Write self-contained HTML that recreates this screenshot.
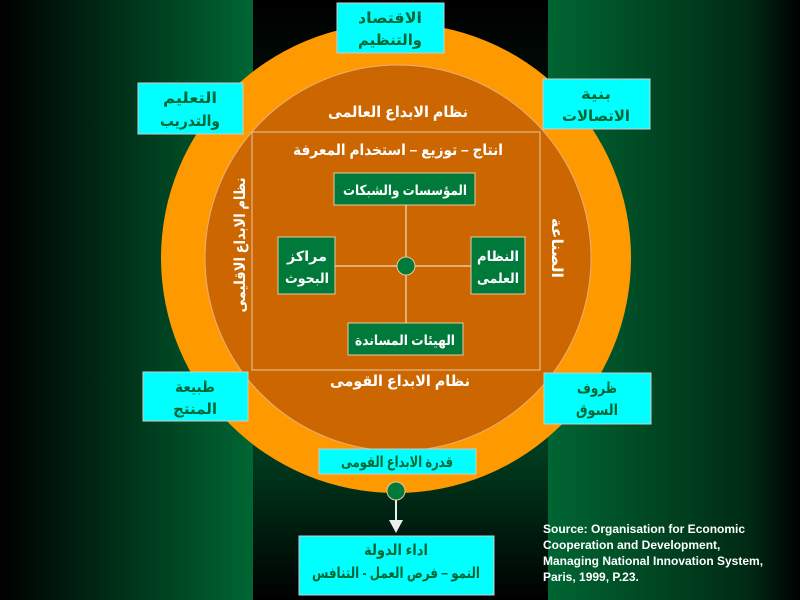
<!DOCTYPE html>
<html><head><meta charset="utf-8"><style>
html,body{margin:0;padding:0;background:#000;}
svg{display:block;}
text{font-family:"Liberation Sans","DejaVu Sans",sans-serif;font-weight:bold;}
</style></head><body>
<svg width="800" height="600" viewBox="0 0 800 600" xmlns="http://www.w3.org/2000/svg">
<defs>
<linearGradient id="gl" x1="0" y1="0" x2="1" y2="0"><stop offset="0" stop-color="#000"/><stop offset="1" stop-color="#006633"/></linearGradient>
<linearGradient id="gr" x1="0" y1="0" x2="1" y2="0"><stop offset="0" stop-color="#006633"/><stop offset="0.8" stop-color="#002a14"/><stop offset="1" stop-color="#000"/></linearGradient>
<linearGradient id="gc" x1="0" y1="0" x2="0" y2="1"><stop offset="0" stop-color="#000"/><stop offset="0.75" stop-color="#003d1f"/><stop offset="1" stop-color="#000"/></linearGradient>
</defs>
<rect x="0" y="0" width="253" height="600" fill="url(#gl)"/>
<rect x="253" y="0" width="295" height="600" fill="url(#gc)"/>
<rect x="548" y="0" width="252" height="600" fill="url(#gr)"/>

<circle cx="396" cy="258" r="235" fill="#ff9900"/>
<circle cx="398" cy="258" r="193" fill="#cc6600" stroke="#e8b080" stroke-width="1"/>
<rect x="252" y="132" width="288" height="238" fill="none" stroke="#e8c8a0" stroke-width="1"/>

<g fill="#fff" font-size="15" text-anchor="middle">
<text x="398" y="117" textLength="140" lengthAdjust="spacingAndGlyphs">نظام الابداع العالمى</text>
<text x="398" y="155" textLength="210" lengthAdjust="spacingAndGlyphs">انتاج – توزيع – استخدام المعرفة</text>
<text x="400" y="386" textLength="140" lengthAdjust="spacingAndGlyphs">نظام الابداع القومى</text>
<text transform="translate(245,245) rotate(-90)" textLength="135" lengthAdjust="spacingAndGlyphs">نظام الابداع الاقليمى</text>
<text transform="translate(552,248) rotate(90)" textLength="60" lengthAdjust="spacingAndGlyphs">الصناعة</text>
</g>

<g stroke="#e8c8a0" stroke-width="1.5">
<line x1="406" y1="205" x2="406" y2="323"/>
<line x1="335" y1="266" x2="471" y2="266"/>
</g>
<circle cx="406" cy="266" r="9" fill="#007a3a" stroke="#e8c8a0"/>

<g fill="#007a3a" stroke="#e8c8a0" stroke-width="1">
<rect x="334" y="173" width="141" height="32"/>
<rect x="278" y="237" width="57" height="57"/>
<rect x="471" y="237" width="54" height="57"/>
<rect x="348" y="323" width="115" height="32"/>
</g>
<g fill="#fff" font-size="14" text-anchor="middle">
<text x="405" y="195" textLength="124" lengthAdjust="spacingAndGlyphs">المؤسسات والشبكات</text>
<text x="307" y="261" textLength="40" lengthAdjust="spacingAndGlyphs">مراكز</text><text x="307" y="283" textLength="44" lengthAdjust="spacingAndGlyphs">البحوث</text>
<text x="498" y="261" textLength="42" lengthAdjust="spacingAndGlyphs">النظام</text><text x="498" y="283" textLength="42" lengthAdjust="spacingAndGlyphs">العلمى</text>
<text x="405" y="345" textLength="100" lengthAdjust="spacingAndGlyphs">الهيئات المساندة</text>
</g>

<g fill="#00ffff" stroke="#ccc" stroke-width="1">
<rect x="337" y="3" width="107" height="50"/>
<rect x="138" y="83" width="105" height="51"/>
<rect x="543" y="79" width="107" height="50"/>
<rect x="143" y="372" width="105" height="49"/>
<rect x="544" y="373" width="107" height="51"/>
<rect x="319" y="449" width="157" height="25"/>
<rect x="299" y="536" width="195" height="59"/>
</g>
<g fill="#006633" font-size="15" text-anchor="middle">
<text x="390" y="23" textLength="64" lengthAdjust="spacingAndGlyphs">الاقتصاد</text><text x="390" y="45" textLength="64" lengthAdjust="spacingAndGlyphs">والتنظيم</text>
<text x="190" y="103" textLength="54" lengthAdjust="spacingAndGlyphs">التعليم</text><text x="190" y="126" textLength="60" lengthAdjust="spacingAndGlyphs">والتدريب</text>
<text x="596" y="99" textLength="30" lengthAdjust="spacingAndGlyphs">بنية</text><text x="596" y="121" textLength="68" lengthAdjust="spacingAndGlyphs">الاتصالات</text>
<text x="195" y="392" textLength="40" lengthAdjust="spacingAndGlyphs">طبيعة</text><text x="195" y="414" textLength="44" lengthAdjust="spacingAndGlyphs">المنتج</text>
<text x="597" y="393" textLength="40" lengthAdjust="spacingAndGlyphs">ظروف</text><text x="597" y="415" textLength="42" lengthAdjust="spacingAndGlyphs">السوق</text>
<text x="397" y="467" textLength="112" lengthAdjust="spacingAndGlyphs">قدرة الابداع القومى</text>
<text x="396" y="555" textLength="64" lengthAdjust="spacingAndGlyphs">اداء الدولة</text>
<text x="396" y="578" textLength="168" lengthAdjust="spacingAndGlyphs">النمو – فرص العمل - التنافس</text>
</g>

<line x1="396" y1="500" x2="396" y2="522" stroke="#eee" stroke-width="2"/>
<path d="M389,520 L403,520 L396,533 z" fill="#eee"/>
<circle cx="396" cy="491" r="9" fill="#007a3a" stroke="#e8c8a0"/>

<g fill="#fff" font-size="12">
<text x="543" y="533">Source: Organisation for Economic</text>
<text x="543" y="549">Cooperation and Development,</text>
<text x="543" y="565">Managing National Innovation System,</text>
<text x="543" y="581">Paris, 1999, P.23.</text>
</g>
</svg>
</body></html>
